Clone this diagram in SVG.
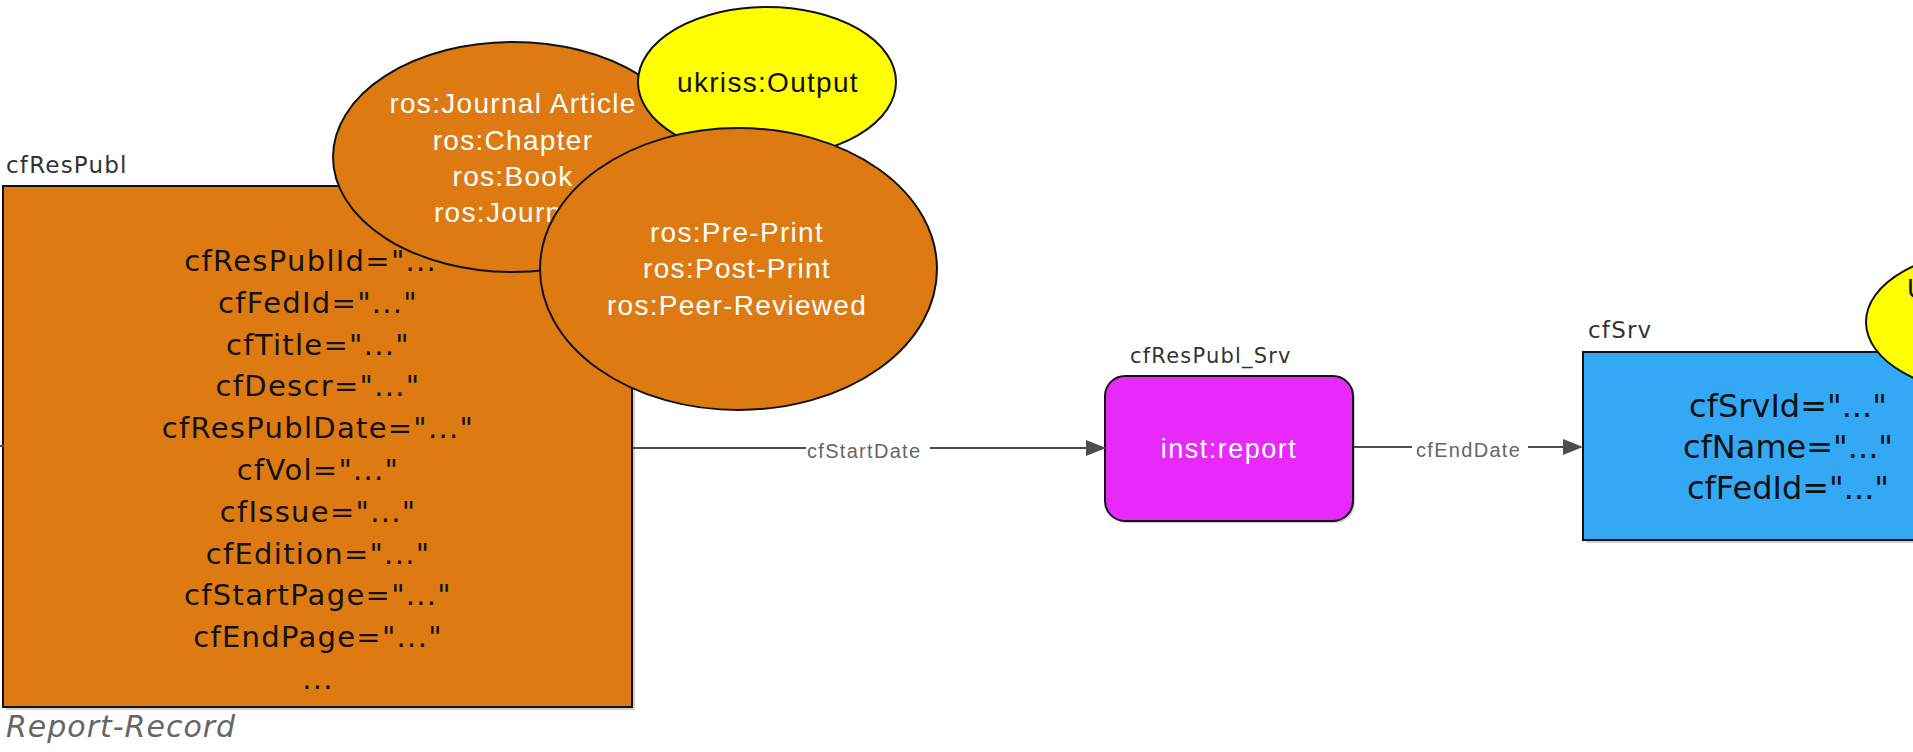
<svg xmlns="http://www.w3.org/2000/svg" width="1913" height="752" viewBox="0 0 1913 752">
<style>
.box{stroke:#111;stroke-width:2}
.shadow{fill:#000;opacity:0.18}
.name{font-family:"DejaVu Sans",Verdana,sans-serif;fill:#333;letter-spacing:1.2px}
.attr{font-family:"DejaVu Sans",Verdana,sans-serif;font-size:29px;fill:#111;text-anchor:middle;letter-spacing:1.3px}
.attr2{font-family:"DejaVu Sans",Verdana,sans-serif;font-size:32px;fill:#111;text-anchor:middle}
.etxt{font-family:"Liberation Sans",Arial,sans-serif;font-size:28px;fill:#fff;text-anchor:middle;letter-spacing:1.3px}
.ytxt{font-family:"Liberation Sans",Arial,sans-serif;font-size:28px;fill:#111;text-anchor:middle;letter-spacing:1.3px}
.elabel{font-family:"Liberation Sans",Arial,sans-serif;font-size:20px;fill:#666;letter-spacing:1.3px}
.conn{stroke:#4d4d4d;stroke-width:2;fill:none}
.orange{fill:#DE7A12}
.yellow{fill:#FFFF00}
</style>
<defs>
<marker id="arrow" markerUnits="userSpaceOnUse" markerWidth="20" markerHeight="16" refX="0" refY="8" orient="auto">
<path d="M0,0 L20,8 L0,16 z" fill="#4d4d4d"/>
</marker>
</defs>
<rect width="1913" height="752" fill="#fff"/>

<g id="cfResPubl">
<text class="name" x="6" y="173" font-size="23">cfResPubl</text>
<rect class="shadow" x="6" y="189" width="629" height="521"/>
<rect class="box orange" x="3" y="186" width="629" height="521"/>
<text class="attr" x="318" y="271">cfResPublId="..."</text>
<text class="attr" x="318" y="313">cfFedId="..."</text>
<text class="attr" x="318" y="354.5">cfTitle="..."</text>
<text class="attr" x="318" y="396">cfDescr="..."</text>
<text class="attr" x="318" y="438">cfResPublDate="..."</text>
<text class="attr" x="318" y="480">cfVol="..."</text>
<text class="attr" x="318" y="522">cfIssue="..."</text>
<text class="attr" x="318" y="564">cfEdition="..."</text>
<text class="attr" x="318" y="605">cfStartPage="..."</text>
<text class="attr" x="318" y="647">cfEndPage="..."</text>
<text class="attr" x="318" y="689">...</text>
<text x="6" y="737" font-family="DejaVu Sans,Verdana,sans-serif" font-style="italic" font-size="30" fill="#666" letter-spacing="1">Report-Record</text>
</g>

<g id="types1">
<ellipse class="box orange" cx="513" cy="157" rx="180" ry="115"/>
<text class="etxt" x="513" y="113">ros:Journal Article</text>
<text class="etxt" x="513" y="150">ros:Chapter</text>
<text class="etxt" x="513" y="186">ros:Book</text>
<text class="etxt" x="434" y="222" style="text-anchor:start">ros:Journ</text>
</g>

<g id="output1">
<ellipse class="box yellow" cx="767" cy="82" rx="129" ry="75"/>
<text class="ytxt" x="768" y="92">ukriss:Output</text>
</g>

<g id="types2">
<ellipse class="box orange" cx="738.5" cy="269" rx="198.5" ry="141"/>
<text class="etxt" x="737" y="242">ros:Pre-Print</text>
<text class="etxt" x="737" y="278">ros:Post-Print</text>
<text class="etxt" x="737" y="315">ros:Peer-Reviewed</text>
</g>

<g id="cfResPubl_Srv">
<text class="name" x="1130" y="363" font-size="21">cfResPubl_Srv</text>
<rect class="shadow" x="1107" y="378" width="248" height="145" rx="20"/>
<rect class="box" x="1105" y="376" width="248" height="145" rx="20" fill="#E829FB"/>
<text x="1229" y="458" font-family="Liberation Sans,Arial,sans-serif" font-size="27" fill="#fff" text-anchor="middle" letter-spacing="1.5">inst:report</text>
</g>

<g id="cfSrv">
<text class="name" x="1588" y="338" font-size="23">cfSrv</text>
<rect class="shadow" x="1586" y="355" width="340" height="188"/>
<rect class="box" x="1583" y="352" width="340" height="188" fill="#33A8F5"/>
<text class="attr2" x="1788" y="417">cfSrvId="..."</text>
<text class="attr2" x="1788" y="458">cfName="..."</text>
<text class="attr2" x="1788" y="499">cfFedId="..."</text>
</g>

<g id="output2">
<ellipse class="box yellow" cx="1995" cy="322" rx="129" ry="72"/>
<text x="1907" y="298" font-family="Liberation Sans,Arial,sans-serif" font-size="28" fill="#111">U</text>
</g>

<g id="connectors">
<line class="conn" x1="0" y1="446" x2="4" y2="446"/>
<line class="conn" x1="633" y1="448" x2="806" y2="448"/>
<text class="elabel" x="807" y="458">cfStartDate</text>
<line class="conn" x1="930" y1="448" x2="1086" y2="448" marker-end="url(#arrow)"/>
<line class="conn" x1="1354" y1="447" x2="1412" y2="447"/>
<text class="elabel" x="1416" y="457">cfEndDate</text>
<line class="conn" x1="1528" y1="447" x2="1563" y2="447" marker-end="url(#arrow)"/>
</g>
</svg>
